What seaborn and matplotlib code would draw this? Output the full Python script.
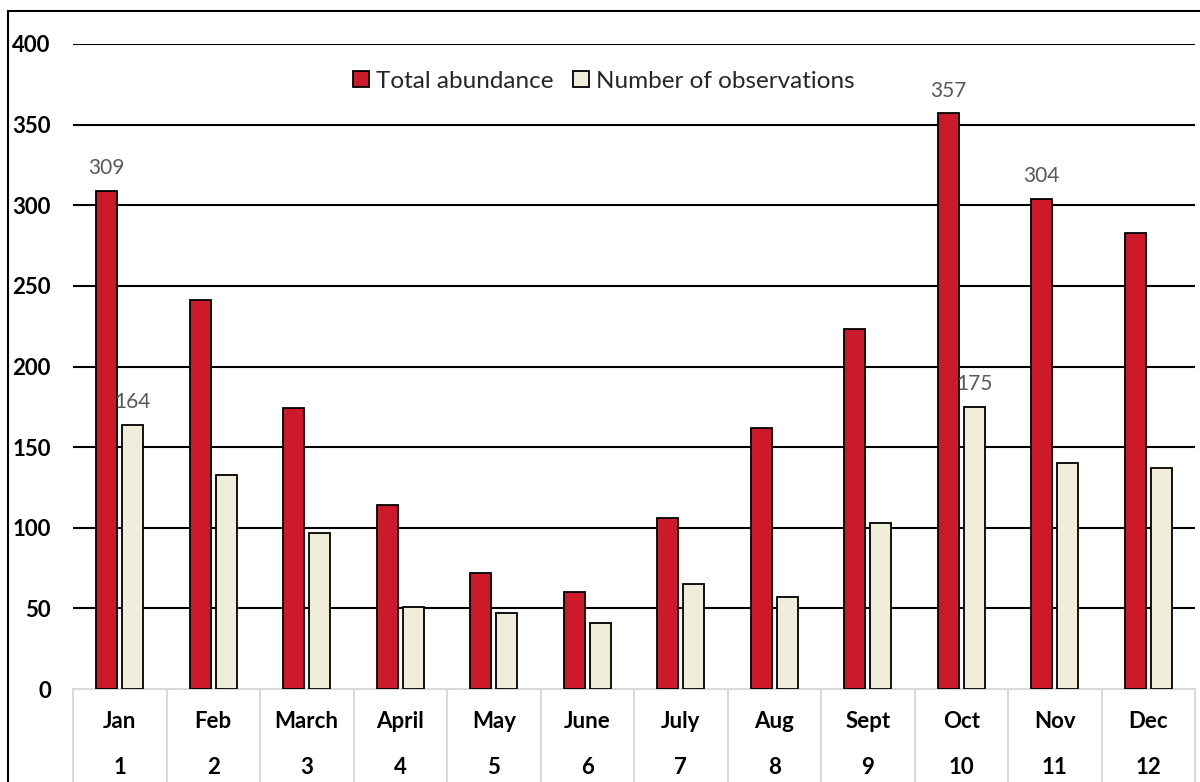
import matplotlib
matplotlib.use("Agg")
import matplotlib.pyplot as plt
import seaborn as sns
import pandas as pd
from matplotlib.patches import Patch, Rectangle

months = ["Jan", "Feb", "March", "April", "May", "June", "July", "Aug", "Sept", "Oct", "Nov", "Dec"]
month_numbers = ["1", "2", "3", "4", "5", "6", "7", "8", "9", "10", "11", "12"]
total_abundance = [309, 241, 174, 114, 72, 60, 106, 162, 223, 357, 304, 283]
number_of_observations = [164, 133, 97, 51, 47, 41, 65, 57, 103, 175, 140, 137]
series_names = ["Total abundance", "Number of observations"]
labelled_abundance = ["Jan", "Oct", "Nov"]
labelled_observations = ["Jan", "Oct"]
yticks = [0, 50, 100, 150, 200, 250, 300, 350, 400]

RED = "#CD1A2B"
BEIGE = "#F0ECDA"
LABEL_GRAY = "#595959"
TABLE_GRAY = "#D9D9D9"

sns.set_theme(style="white")
plt.rcParams["font.family"] = ["Lato", "DejaVu Sans"]

df = pd.DataFrame({
    "month": months * 2,
    "value": total_abundance + number_of_observations,
    "series": [series_names[0]] * 12 + [series_names[1]] * 12,
})

fig = plt.figure(figsize=(12, 7.82), dpi=100)
ax = fig.add_axes([73 / 1200, (782 - 689) / 782, (1195 - 73) / 1200, (689 - 44) / 782])

sns.barplot(data=df, x="month", y="value", hue="series", order=months,
            hue_order=series_names, palette=[RED, BEIGE], saturation=1, width=0.56, gap=0.2,
            edgecolor="black", linewidth=1.3, ax=ax, legend=False, zorder=3)

ax.set_ylim(0, 400)
ax.set_xlim(-0.5, 11.5)
ax.set_yticks(yticks)
ax.set_yticklabels([str(v) for v in yticks], fontweight="bold", fontsize=16, color="black")
ax.tick_params(axis="y", length=0, pad=16)
for v in yticks[1:]:
    ax.axhline(v, color="black", linewidth=1.5, zorder=1)
for s in ax.spines.values():
    s.set_visible(False)
ax.set_xlabel("")
ax.set_ylabel("")

# category table below the axis
ax.set_xticks(range(12))
ax.set_xticklabels([])
ax.tick_params(axis="x", length=0)
xt = ax.get_xaxis_transform()
ax.plot([-0.5, 11.5], [0, 0], transform=xt, color=TABLE_GRAY, linewidth=1.5, clip_on=False, zorder=2)
for b in range(13):
    ax.plot([b - 0.5, b - 0.5], [0, -0.3], transform=xt, color=TABLE_GRAY, linewidth=1.5, clip_on=False)
for i, (m, n) in enumerate(zip(months, month_numbers)):
    ax.text(i, -(722 - 689) / 645, m, transform=xt, ha="center", va="center",
            fontsize=16, fontweight="bold", color="black")
    ax.text(i, -(767 - 689) / 645, n, transform=xt, ha="center", va="center",
            fontsize=16, fontweight="bold", color="black")

# data labels
red_c, obs_c = ax.containers[0], ax.containers[1]
ax.bar_label(red_c, labels=[str(v) if m in labelled_abundance else "" for m, v in zip(months, total_abundance)],
             padding=9, fontsize=15, color=LABEL_GRAY)
ax.bar_label(obs_c, labels=[str(v) if m in labelled_observations else "" for m, v in zip(months, number_of_observations)],
             padding=9, fontsize=15, color=LABEL_GRAY)

handles = [Patch(facecolor=RED, edgecolor="black", linewidth=1.3),
           Patch(facecolor=BEIGE, edgecolor="black", linewidth=1.3)]
ax.legend(handles, series_names, loc="center", bbox_to_anchor=((604 - 73) / 1122, (689 - 81) / 645),
          ncol=2, frameon=False, fontsize=17.5, handlelength=0.65, handleheight=0.65,
          handletextpad=0.3, columnspacing=0.8, borderpad=0, borderaxespad=0)

# outer frame
fig.patches.append(Rectangle((8 / 1200, -0.1), 1.2, (782 - 11) / 782 + 0.1, transform=fig.transFigure,
                             fill=False, edgecolor="black", linewidth=1.5, clip_on=False))

fig.savefig("out.png", dpi=100)
